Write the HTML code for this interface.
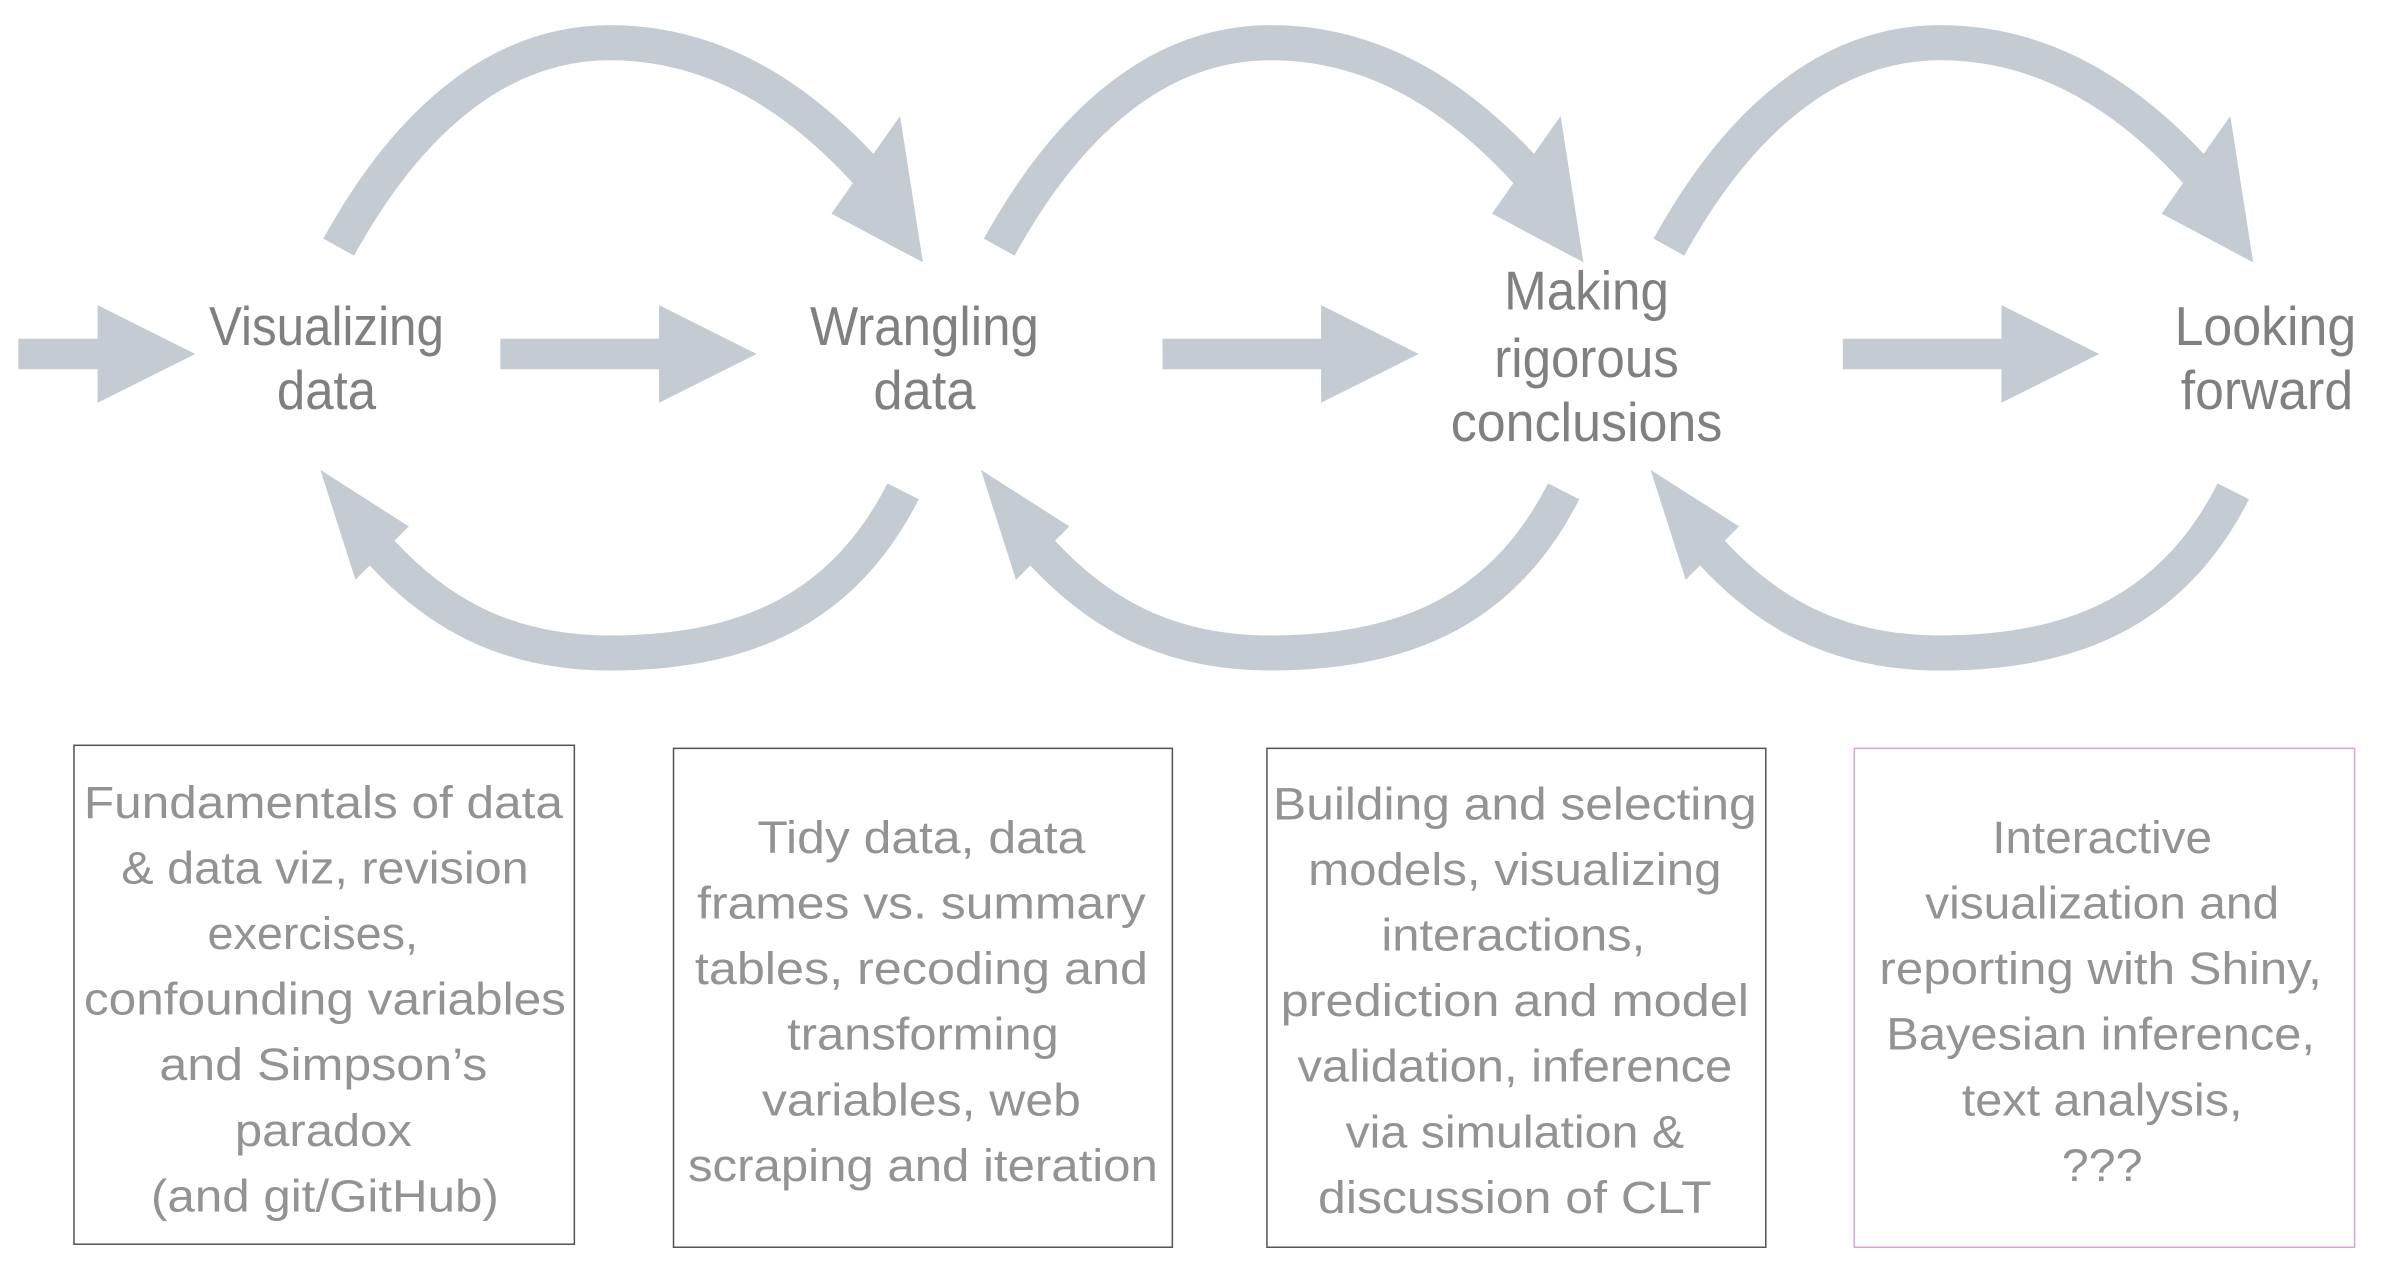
<!DOCTYPE html>
<html><head><meta charset="utf-8"><style>
html,body{margin:0;padding:0;background:#fff;}
svg{display:block;}
text{font-family:"Liberation Sans",sans-serif;}
</style></head><body>
<svg width="2392" height="1277" viewBox="0 0 1568 837" preserveAspectRatio="none" xmlns="http://www.w3.org/2000/svg">
<defs>
<g id="top">
<path d="M 222 162 C 270 75, 330 28, 400 28 C 470 28, 525 65, 570 115" fill="none" stroke="#c4cbd3" stroke-width="23"/>
<polygon points="590,76 545,140 605,172" fill="#c4cbd3"/>
</g>
<g id="bot">
<path d="M 592 322 C 550 405, 480 428, 400 428 C 330 428, 285 400, 250 362" fill="none" stroke="#c4cbd3" stroke-width="23"/>
<polygon points="210,308 268,345 233,380" fill="#c4cbd3"/>
</g>
</defs>
<use href="#top"/><use href="#top" x="433"/><use href="#top" x="872"/>
<use href="#bot"/><use href="#bot" x="433"/><use href="#bot" x="872"/>
<g fill="#c4cbd3">
<polygon points="12,222 64,222 64,200 128,232 64,264 64,242 12,242"/>
<polygon points="328,222 432,222 432,200 496,232 432,264 432,242 328,242"/>
<polygon points="762,222 866,222 866,200 930,232 866,264 866,242 762,242"/>
<polygon points="1208,222 1312,222 1312,200 1376,232 1312,264 1312,242 1208,242"/>
</g>
<g fill="#808080" font-size="36" text-anchor="middle">
<text x="214" y="226" textLength="154" lengthAdjust="spacingAndGlyphs">Visualizing</text>
<text x="214" y="268" textLength="65" lengthAdjust="spacingAndGlyphs">data</text>
<text x="606" y="226" textLength="150" lengthAdjust="spacingAndGlyphs">Wrangling</text>
<text x="606" y="268" textLength="67" lengthAdjust="spacingAndGlyphs">data</text>
<text x="1040" y="203" textLength="108" lengthAdjust="spacingAndGlyphs">Making</text>
<text x="1040" y="247" textLength="121" lengthAdjust="spacingAndGlyphs">rigorous</text>
<text x="1040" y="289" textLength="178" lengthAdjust="spacingAndGlyphs">conclusions</text>
<text x="1485" y="226" textLength="119" lengthAdjust="spacingAndGlyphs">Looking</text>
<text x="1486" y="268" textLength="113" lengthAdjust="spacingAndGlyphs">forward</text>
</g>
<rect x="48.5" y="488.5" width="328" height="327" fill="none" stroke="#555" stroke-width="1"/>
<rect x="441.5" y="490.5" width="327" height="327" fill="none" stroke="#555" stroke-width="1"/>
<rect x="830.5" y="490.5" width="327" height="327" fill="none" stroke="#555" stroke-width="1"/>
<rect x="1215.5" y="490.5" width="328" height="327" fill="none" stroke="#d7a8d7" stroke-width="1"/>
<g fill="#939393" font-size="30" text-anchor="middle">
<text x="212" y="536" textLength="314" lengthAdjust="spacingAndGlyphs">Fundamentals of data</text>
<text x="213" y="579" textLength="267" lengthAdjust="spacingAndGlyphs">&amp; data viz, revision</text>
<text x="205" y="622" textLength="138" lengthAdjust="spacingAndGlyphs">exercises,</text>
<text x="213" y="665" textLength="316" lengthAdjust="spacingAndGlyphs">confounding variables</text>
<text x="212" y="708" textLength="215" lengthAdjust="spacingAndGlyphs">and Simpson’s</text>
<text x="212" y="751" textLength="116" lengthAdjust="spacingAndGlyphs">paradox</text>
<text x="213" y="794" textLength="228" lengthAdjust="spacingAndGlyphs">(and git/GitHub)</text>

<text x="604" y="559" textLength="215" lengthAdjust="spacingAndGlyphs">Tidy data, data</text>
<text x="604" y="602" textLength="294" lengthAdjust="spacingAndGlyphs">frames vs. summary</text>
<text x="604" y="645" textLength="297" lengthAdjust="spacingAndGlyphs">tables, recoding and</text>
<text x="605" y="688" textLength="178" lengthAdjust="spacingAndGlyphs">transforming</text>
<text x="604" y="731" textLength="209" lengthAdjust="spacingAndGlyphs">variables, web</text>
<text x="605" y="774" textLength="308" lengthAdjust="spacingAndGlyphs">scraping and iteration</text>

<text x="993" y="537" textLength="317" lengthAdjust="spacingAndGlyphs">Building and selecting</text>
<text x="993" y="580" textLength="271" lengthAdjust="spacingAndGlyphs">models, visualizing</text>
<text x="992" y="623" textLength="173" lengthAdjust="spacingAndGlyphs">interactions,</text>
<text x="993" y="666" textLength="307" lengthAdjust="spacingAndGlyphs">prediction and model</text>
<text x="993" y="709" textLength="285" lengthAdjust="spacingAndGlyphs">validation, inference</text>
<text x="993" y="752" textLength="222" lengthAdjust="spacingAndGlyphs">via simulation &amp;</text>
<text x="993" y="795" textLength="258" lengthAdjust="spacingAndGlyphs">discussion of CLT</text>

<text x="1378" y="559" textLength="144" lengthAdjust="spacingAndGlyphs">Interactive</text>
<text x="1378" y="602" textLength="232" lengthAdjust="spacingAndGlyphs">visualization and</text>
<text x="1377" y="645" textLength="290" lengthAdjust="spacingAndGlyphs">reporting with Shiny,</text>
<text x="1377" y="688" textLength="281" lengthAdjust="spacingAndGlyphs">Bayesian inference,</text>
<text x="1378" y="731" textLength="184" lengthAdjust="spacingAndGlyphs">text analysis,</text>
<text x="1378" y="774" textLength="53" lengthAdjust="spacingAndGlyphs">???</text>
</g>
</svg>
</body></html>
